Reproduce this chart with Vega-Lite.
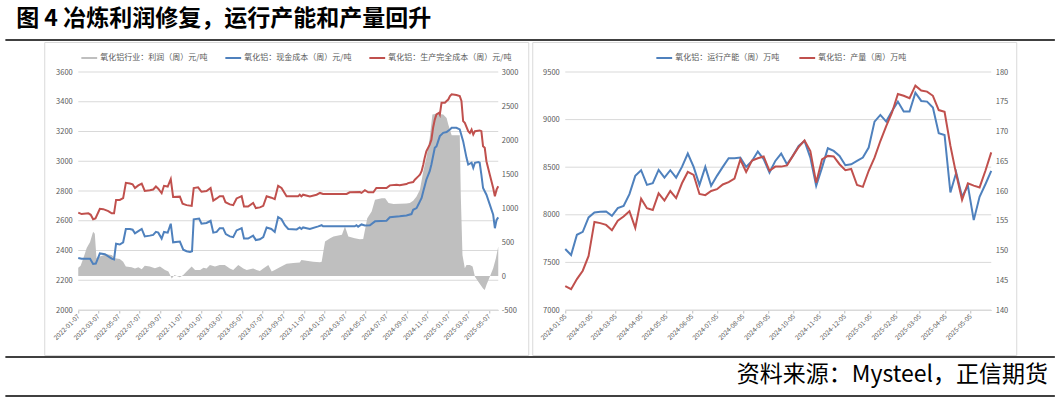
{
  "$schema": "https://vega.github.io/schema/vega-lite/v6.json",
  "background": "white",
  "padding": {"left": 5, "top": 7, "right": 6, "bottom": 0},
  "autosize": {"type": "pad"},
  "config": {
    "font": "Noto Sans CJK SC",
    "view": {"stroke": null}
  },
  "datasets": {
    "profit": [
      {"d":"2022-01-07","v":120},{"d":"2022-01-14","v":150},{"d":"2022-01-22","v":260},{"d":"2022-02-01","v":410},{"d":"2022-02-11","v":500},{"d":"2022-02-20","v":650},{"d":"2022-02-25","v":620},{"d":"2022-03-02","v":260},{"d":"2022-03-12","v":285},{"d":"2022-04-01","v":320},{"d":"2022-04-16","v":310},{"d":"2022-04-26","v":260},{"d":"2022-05-10","v":250},{"d":"2022-05-20","v":210},{"d":"2022-05-28","v":140},{"d":"2022-06-14","v":128},{"d":"2022-06-24","v":110},{"d":"2022-07-04","v":128},{"d":"2022-07-14","v":100},{"d":"2022-07-23","v":150},{"d":"2022-08-07","v":140},{"d":"2022-08-22","v":115},{"d":"2022-09-06","v":140},{"d":"2022-09-21","v":90},{"d":"2022-10-01","v":65},{"d":"2022-10-11","v":-35},{"d":"2022-10-19","v":15},{"d":"2022-10-26","v":0},{"d":"2022-11-04","v":-20},{"d":"2022-11-14","v":15},{"d":"2022-11-24","v":65},{"d":"2022-12-09","v":140},{"d":"2022-12-19","v":90},{"d":"2023-01-03","v":90},{"d":"2023-01-13","v":120},{"d":"2023-01-22","v":110},{"d":"2023-02-01","v":160},{"d":"2023-02-16","v":140},{"d":"2023-03-02","v":160},{"d":"2023-03-17","v":160},{"d":"2023-04-01","v":110},{"d":"2023-04-11","v":90},{"d":"2023-04-26","v":160},{"d":"2023-05-11","v":110},{"d":"2023-05-21","v":90},{"d":"2023-06-09","v":110},{"d":"2023-06-19","v":90},{"d":"2023-06-29","v":75},{"d":"2023-07-09","v":110},{"d":"2023-07-24","v":160},{"d":"2023-08-03","v":65},{"d":"2023-08-12","v":90},{"d":"2023-08-27","v":130},{"d":"2023-09-16","v":180},{"d":"2023-10-06","v":190},{"d":"2023-10-25","v":197},{"d":"2023-10-30","v":236},{"d":"2023-11-14","v":226},{"d":"2023-12-04","v":211},{"d":"2023-12-24","v":201},{"d":"2023-12-29","v":211},{"d":"2024-01-08","v":506},{"d":"2024-01-23","v":555},{"d":"2024-02-02","v":580},{"d":"2024-02-27","v":605},{"d":"2024-03-07","v":728},{"d":"2024-03-17","v":580},{"d":"2024-04-05","v":555},{"d":"2024-04-20","v":540},{"d":"2024-04-30","v":545},{"d":"2024-05-12","v":850},{"d":"2024-05-25","v":949},{"d":"2024-06-04","v":1120},{"d":"2024-06-24","v":1145},{"d":"2024-07-04","v":1145},{"d":"2024-07-14","v":1072},{"d":"2024-07-29","v":1057},{"d":"2024-09-05","v":1065},{"d":"2024-09-15","v":1072},{"d":"2024-09-25","v":1106},{"d":"2024-10-05","v":1170},{"d":"2024-10-15","v":1268},{"d":"2024-10-25","v":1540},{"d":"2024-11-03","v":1735},{"d":"2024-11-13","v":2030},{"d":"2024-11-21","v":2375},{"d":"2024-12-03","v":2385},{"d":"2024-12-23","v":2375},{"d":"2025-01-02","v":2325},{"d":"2025-01-07","v":2227},{"d":"2025-01-17","v":2070},{"d":"2025-02-10","v":2070},{"d":"2025-02-13","v":1200},{"d":"2025-02-18","v":310},{"d":"2025-02-25","v":113},{"d":"2025-03-02","v":162},{"d":"2025-03-12","v":162},{"d":"2025-03-20","v":138},{"d":"2025-03-27","v":-10},{"d":"2025-04-06","v":-84},{"d":"2025-04-20","v":-182},{"d":"2025-04-25","v":-206},{"d":"2025-04-30","v":-133},{"d":"2025-05-10","v":-10},{"d":"2025-05-20","v":113},{"d":"2025-05-28","v":260},{"d":"2025-06-04","v":433}
    ],
    "cash": [
      {"d":"2022-01-07","v":2350},{"d":"2022-01-17","v":2345},{"d":"2022-02-11","v":2345},{"d":"2022-02-20","v":2310},{"d":"2022-02-28","v":2312},{"d":"2022-03-12","v":2380},{"d":"2022-03-27","v":2375},{"d":"2022-04-06","v":2360},{"d":"2022-04-16","v":2345},{"d":"2022-04-23","v":2340},{"d":"2022-04-29","v":2445},{"d":"2022-05-10","v":2440},{"d":"2022-05-20","v":2455},{"d":"2022-05-28","v":2545},{"d":"2022-06-09","v":2545},{"d":"2022-06-17","v":2540},{"d":"2022-06-24","v":2515},{"d":"2022-07-04","v":2530},{"d":"2022-07-14","v":2545},{"d":"2022-07-23","v":2495},{"d":"2022-08-07","v":2500},{"d":"2022-08-17","v":2505},{"d":"2022-08-25","v":2525},{"d":"2022-09-01","v":2520},{"d":"2022-09-11","v":2480},{"d":"2022-09-18","v":2525},{"d":"2022-09-29","v":2520},{"d":"2022-10-08","v":2580},{"d":"2022-10-15","v":2455},{"d":"2022-11-04","v":2460},{"d":"2022-11-14","v":2405},{"d":"2022-11-24","v":2395},{"d":"2022-12-04","v":2390},{"d":"2022-12-10","v":2395},{"d":"2022-12-15","v":2610},{"d":"2022-12-31","v":2615},{"d":"2023-01-07","v":2580},{"d":"2023-01-22","v":2585},{"d":"2023-02-03","v":2600},{"d":"2023-02-11","v":2520},{"d":"2023-02-21","v":2525},{"d":"2023-03-02","v":2550},{"d":"2023-03-12","v":2550},{"d":"2023-03-20","v":2510},{"d":"2023-04-01","v":2495},{"d":"2023-04-11","v":2490},{"d":"2023-04-21","v":2535},{"d":"2023-05-06","v":2550},{"d":"2023-05-13","v":2480},{"d":"2023-05-25","v":2480},{"d":"2023-06-09","v":2500},{"d":"2023-06-17","v":2470},{"d":"2023-06-29","v":2475},{"d":"2023-07-09","v":2490},{"d":"2023-07-19","v":2555},{"d":"2023-08-02","v":2545},{"d":"2023-08-12","v":2525},{"d":"2023-08-22","v":2625},{"d":"2023-09-01","v":2610},{"d":"2023-09-11","v":2570},{"d":"2023-09-21","v":2545},{"d":"2023-10-16","v":2542},{"d":"2023-10-25","v":2555},{"d":"2023-10-30","v":2545},{"d":"2023-11-04","v":2555},{"d":"2023-11-24","v":2545},{"d":"2023-12-19","v":2562},{"d":"2023-12-29","v":2570},{"d":"2024-01-02","v":2563},{"d":"2024-04-05","v":2563},{"d":"2024-04-10","v":2570},{"d":"2024-04-15","v":2560},{"d":"2024-04-25","v":2575},{"d":"2024-05-05","v":2568},{"d":"2024-05-20","v":2570},{"d":"2024-06-04","v":2596},{"d":"2024-07-08","v":2600},{"d":"2024-07-18","v":2623},{"d":"2024-08-16","v":2630},{"d":"2024-09-05","v":2636},{"d":"2024-09-20","v":2645},{"d":"2024-09-25","v":2674},{"d":"2024-10-05","v":2685},{"d":"2024-10-10","v":2708},{"d":"2024-10-15","v":2730},{"d":"2024-10-20","v":2753},{"d":"2024-10-25","v":2798},{"d":"2024-10-29","v":2832},{"d":"2024-11-03","v":2876},{"d":"2024-11-13","v":2933},{"d":"2024-11-18","v":2978},{"d":"2024-11-28","v":3090},{"d":"2024-12-03","v":3100},{"d":"2024-12-13","v":3169},{"d":"2024-12-23","v":3191},{"d":"2025-01-02","v":3196},{"d":"2025-01-12","v":3214},{"d":"2025-01-17","v":3225},{"d":"2025-01-31","v":3225},{"d":"2025-02-10","v":3214},{"d":"2025-02-20","v":3135},{"d":"2025-03-02","v":3023},{"d":"2025-03-07","v":2978},{"d":"2025-03-17","v":2990},{"d":"2025-03-22","v":2956},{"d":"2025-03-27","v":2990},{"d":"2025-04-06","v":2995},{"d":"2025-04-10","v":2990},{"d":"2025-04-15","v":2910},{"d":"2025-04-20","v":2820},{"d":"2025-04-30","v":2775},{"d":"2025-05-10","v":2708},{"d":"2025-05-20","v":2640},{"d":"2025-05-25","v":2550},{"d":"2025-05-30","v":2606},{"d":"2025-06-04","v":2623}
    ],
    "full": [
      {"d":"2022-01-07","v":2655},{"d":"2022-01-17","v":2645},{"d":"2022-02-06","v":2650},{"d":"2022-02-13","v":2640},{"d":"2022-02-20","v":2610},{"d":"2022-02-27","v":2615},{"d":"2022-03-12","v":2680},{"d":"2022-03-22","v":2678},{"d":"2022-04-06","v":2665},{"d":"2022-04-16","v":2650},{"d":"2022-04-23","v":2650},{"d":"2022-04-29","v":2740},{"d":"2022-05-10","v":2740},{"d":"2022-05-20","v":2752},{"d":"2022-05-28","v":2855},{"d":"2022-06-09","v":2850},{"d":"2022-06-17","v":2845},{"d":"2022-06-24","v":2820},{"d":"2022-07-04","v":2838},{"d":"2022-07-14","v":2850},{"d":"2022-07-23","v":2800},{"d":"2022-08-07","v":2805},{"d":"2022-08-17","v":2810},{"d":"2022-08-25","v":2830},{"d":"2022-09-01","v":2815},{"d":"2022-09-11","v":2785},{"d":"2022-09-18","v":2835},{"d":"2022-09-29","v":2830},{"d":"2022-10-08","v":2880},{"d":"2022-10-15","v":2760},{"d":"2022-11-04","v":2762},{"d":"2022-11-12","v":2715},{"d":"2022-11-24","v":2705},{"d":"2022-12-09","v":2700},{"d":"2022-12-15","v":2820},{"d":"2022-12-28","v":2825},{"d":"2023-01-07","v":2795},{"d":"2023-01-22","v":2800},{"d":"2023-02-03","v":2820},{"d":"2023-02-11","v":2735},{"d":"2023-02-21","v":2750},{"d":"2023-03-02","v":2765},{"d":"2023-03-12","v":2765},{"d":"2023-03-19","v":2725},{"d":"2023-04-01","v":2710},{"d":"2023-04-11","v":2705},{"d":"2023-04-21","v":2750},{"d":"2023-05-06","v":2765},{"d":"2023-05-13","v":2695},{"d":"2023-05-25","v":2695},{"d":"2023-06-09","v":2720},{"d":"2023-06-17","v":2685},{"d":"2023-06-29","v":2690},{"d":"2023-07-09","v":2700},{"d":"2023-07-19","v":2765},{"d":"2023-08-02","v":2755},{"d":"2023-08-12","v":2745},{"d":"2023-08-22","v":2835},{"d":"2023-09-01","v":2820},{"d":"2023-09-16","v":2764},{"d":"2023-10-20","v":2764},{"d":"2023-10-25","v":2775},{"d":"2023-10-30","v":2764},{"d":"2023-11-04","v":2775},{"d":"2023-11-24","v":2764},{"d":"2023-12-14","v":2775},{"d":"2023-12-24","v":2787},{"d":"2024-01-02","v":2780},{"d":"2024-03-12","v":2780},{"d":"2024-03-21","v":2791},{"d":"2024-04-20","v":2793},{"d":"2024-04-25","v":2787},{"d":"2024-05-05","v":2805},{"d":"2024-05-15","v":2791},{"d":"2024-05-30","v":2791},{"d":"2024-06-08","v":2820},{"d":"2024-07-08","v":2820},{"d":"2024-07-18","v":2838},{"d":"2024-08-07","v":2842},{"d":"2024-08-16","v":2838},{"d":"2024-09-05","v":2847},{"d":"2024-09-10","v":2853},{"d":"2024-09-25","v":2860},{"d":"2024-09-30","v":2876},{"d":"2024-10-10","v":2898},{"d":"2024-10-15","v":2910},{"d":"2024-10-20","v":2933},{"d":"2024-10-25","v":2978},{"d":"2024-10-29","v":3022},{"d":"2024-11-03","v":3067},{"d":"2024-11-13","v":3112},{"d":"2024-11-18","v":3145},{"d":"2024-11-23","v":3225},{"d":"2024-11-28","v":3280},{"d":"2024-12-03","v":3315},{"d":"2024-12-11","v":3326},{"d":"2024-12-13","v":3315},{"d":"2024-12-18","v":3393},{"d":"2024-12-28","v":3393},{"d":"2025-01-02","v":3405},{"d":"2025-01-07","v":3415},{"d":"2025-01-12","v":3438},{"d":"2025-01-17","v":3450},{"d":"2025-01-31","v":3445},{"d":"2025-02-10","v":3438},{"d":"2025-02-15","v":3405},{"d":"2025-02-20","v":3270},{"d":"2025-02-25","v":3258},{"d":"2025-03-07","v":3202},{"d":"2025-03-12","v":3190},{"d":"2025-03-17","v":3213},{"d":"2025-03-22","v":3180},{"d":"2025-03-27","v":3202},{"d":"2025-04-10","v":3207},{"d":"2025-04-15","v":3202},{"d":"2025-04-20","v":3100},{"d":"2025-04-25","v":3090},{"d":"2025-04-30","v":3000},{"d":"2025-05-10","v":2910},{"d":"2025-05-20","v":2820},{"d":"2025-05-25","v":2764},{"d":"2025-05-30","v":2809},{"d":"2025-06-04","v":2832}
    ],
    "cap": [
      {"d":"2024-01-05","v":7640},{"d":"2024-01-12","v":7577},{"d":"2024-01-19","v":7790},{"d":"2024-01-26","v":7821},{"d":"2024-02-02","v":7972},{"d":"2024-02-09","v":8024},{"d":"2024-02-16","v":8031},{"d":"2024-02-23","v":8035},{"d":"2024-03-01","v":7990},{"d":"2024-03-08","v":8070},{"d":"2024-03-15","v":8094},{"d":"2024-03-22","v":8217},{"d":"2024-03-29","v":8409},{"d":"2024-04-05","v":8468},{"d":"2024-04-12","v":8314},{"d":"2024-04-19","v":8332},{"d":"2024-04-26","v":8472},{"d":"2024-05-03","v":8391},{"d":"2024-05-10","v":8468},{"d":"2024-05-17","v":8391},{"d":"2024-05-24","v":8503},{"d":"2024-05-31","v":8643},{"d":"2024-06-07","v":8503},{"d":"2024-06-14","v":8314},{"d":"2024-06-21","v":8503},{"d":"2024-06-28","v":8304},{"d":"2024-07-05","v":8409},{"d":"2024-07-12","v":8503},{"d":"2024-07-19","v":8594},{"d":"2024-07-26","v":8594},{"d":"2024-08-02","v":8601},{"d":"2024-08-09","v":8503},{"d":"2024-08-16","v":8566},{"d":"2024-08-23","v":8664},{"d":"2024-08-30","v":8584},{"d":"2024-09-06","v":8444},{"d":"2024-09-13","v":8566},{"d":"2024-09-20","v":8643},{"d":"2024-09-27","v":8530},{"d":"2024-10-04","v":8619},{"d":"2024-10-11","v":8724},{"d":"2024-10-18","v":8776},{"d":"2024-10-25","v":8601},{"d":"2024-11-01","v":8304},{"d":"2024-11-08","v":8496},{"d":"2024-11-15","v":8699},{"d":"2024-11-22","v":8671},{"d":"2024-11-29","v":8619},{"d":"2024-12-06","v":8521},{"d":"2024-12-13","v":8531},{"d":"2024-12-20","v":8566},{"d":"2024-12-27","v":8601},{"d":"2025-01-03","v":8706},{"d":"2025-01-10","v":8979},{"d":"2025-01-17","v":9049},{"d":"2025-01-24","v":8979},{"d":"2025-01-31","v":9091},{"d":"2025-02-07","v":9189},{"d":"2025-02-14","v":9084},{"d":"2025-02-21","v":9084},{"d":"2025-02-28","v":9283},{"d":"2025-03-07","v":9196},{"d":"2025-03-14","v":9189},{"d":"2025-03-21","v":9126},{"d":"2025-03-28","v":8857},{"d":"2025-04-04","v":8839},{"d":"2025-04-11","v":8234},{"d":"2025-04-18","v":8444},{"d":"2025-04-25","v":8189},{"d":"2025-05-02","v":8304},{"d":"2025-05-09","v":7944},{"d":"2025-05-16","v":8189},{"d":"2025-05-23","v":8321},{"d":"2025-05-30","v":8461}
    ],
    "out": [
      {"d":"2024-01-05","v":144.0},{"d":"2024-01-12","v":143.5},{"d":"2024-01-19","v":145.2},{"d":"2024-01-26","v":146.6},{"d":"2024-02-02","v":149.1},{"d":"2024-02-09","v":154.8},{"d":"2024-02-16","v":154.6},{"d":"2024-02-23","v":154.3},{"d":"2024-03-01","v":153.4},{"d":"2024-03-08","v":155.0},{"d":"2024-03-15","v":155.7},{"d":"2024-03-22","v":156.6},{"d":"2024-03-29","v":153.8},{"d":"2024-04-05","v":158.7},{"d":"2024-04-12","v":157.1},{"d":"2024-04-19","v":156.8},{"d":"2024-04-26","v":159.6},{"d":"2024-05-03","v":158.4},{"d":"2024-05-10","v":160.0},{"d":"2024-05-17","v":158.8},{"d":"2024-05-24","v":161.3},{"d":"2024-05-31","v":163.2},{"d":"2024-06-07","v":162.7},{"d":"2024-06-14","v":159.5},{"d":"2024-06-21","v":159.3},{"d":"2024-06-28","v":160.0},{"d":"2024-07-05","v":160.3},{"d":"2024-07-12","v":161.1},{"d":"2024-07-19","v":161.5},{"d":"2024-07-26","v":162.1},{"d":"2024-08-02","v":165.3},{"d":"2024-08-09","v":163.2},{"d":"2024-08-16","v":165.1},{"d":"2024-08-23","v":165.5},{"d":"2024-08-30","v":165.8},{"d":"2024-09-06","v":163.4},{"d":"2024-09-13","v":164.1},{"d":"2024-09-20","v":164.1},{"d":"2024-09-27","v":164.3},{"d":"2024-10-04","v":165.9},{"d":"2024-10-11","v":167.4},{"d":"2024-10-18","v":168.5},{"d":"2024-10-25","v":166.7},{"d":"2024-11-01","v":161.4},{"d":"2024-11-08","v":165.3},{"d":"2024-11-15","v":165.9},{"d":"2024-11-22","v":165.8},{"d":"2024-11-29","v":164.5},{"d":"2024-12-06","v":163.5},{"d":"2024-12-13","v":163.7},{"d":"2024-12-20","v":161.0},{"d":"2024-12-27","v":160.7},{"d":"2025-01-03","v":163.4},{"d":"2025-01-10","v":165.6},{"d":"2025-01-17","v":168.4},{"d":"2025-01-24","v":170.9},{"d":"2025-01-31","v":173.2},{"d":"2025-02-07","v":176.3},{"d":"2025-02-14","v":176.0},{"d":"2025-02-21","v":175.6},{"d":"2025-02-28","v":177.7},{"d":"2025-03-07","v":176.9},{"d":"2025-03-14","v":176.7},{"d":"2025-03-21","v":176.0},{"d":"2025-03-28","v":173.6},{"d":"2025-04-04","v":173.3},{"d":"2025-04-11","v":167.6},{"d":"2025-04-18","v":162.8},{"d":"2025-04-25","v":158.5},{"d":"2025-05-02","v":161.3},{"d":"2025-05-09","v":160.9},{"d":"2025-05-16","v":160.6},{"d":"2025-05-23","v":163.4},{"d":"2025-05-30","v":166.5}
    ]
  },
  "spacing": 0,
  "center": true,
  "vconcat": [
    {
      "width": 1048,
      "height": 0.01,
      "view": {"stroke": "#000000", "strokeWidth": 1.5},
      "title": {"text": "图 4 冶炼利润修复，运行产能和产量回升", "anchor": "start", "orient": "top", "font": "Noto Sans CJK SC", "fontSize": 23, "fontWeight": "bold", "color": "#000000", "dx": 10, "dy": 20, "offset": 11, "baseline": "alphabetic"},
      "data": {"values": []},
      "mark": "text",
      "encoding": {}
    },
    {
      "spacing": 2,
      "resolve": {"scale": {"color": "independent"}},
      "hconcat": [
        {
          "width": 484,
          "height": 313,
          "view": {"stroke": "#d9d9d9", "strokeWidth": 1},
          "resolve": {"scale": {"x": "independent", "y": "independent"}},
          "layer": [
            {
              "data": {"values": [{"g":2000},{"g":2200},{"g":2400},{"g":2600},{"g":2800},{"g":3000},{"g":3200},{"g":3400},{"g":3600}]},
              "mark": {"type": "rule", "color": "#d9d9d9", "strokeWidth": 1},
              "encoding": {
                "y": {"field": "g", "type": "quantitative", "scale": {"domain": [2000, 3600], "range": [268, 30], "nice": false, "zero": false}, "axis": null},
                "x": {"datum": {"year": 2022, "month": 1, "date": 7, "utc": true}, "type": "temporal", "scale": {"type": "utc", "domain": [{"year": 2022, "month": 1, "date": 7, "utc": true}, {"year": 2025, "month": 6, "date": 4, "utc": true}], "range": [34, 454], "nice": false}, "axis": null},
                "x2": {"datum": {"year": 2025, "month": 6, "date": 4, "utc": true}}
              }
            },
            {
              "data": {"name": "profit"},
              "mark": {"type": "area", "opacity": 1},
              "encoding": {
                "x": {"field": "d", "type": "temporal", "scale": {"type": "utc", "domain": [{"year": 2022, "month": 1, "date": 7, "utc": true}, {"year": 2025, "month": 6, "date": 4, "utc": true}], "range": [34, 454], "nice": false},
                  "axis": {"orient": "bottom", "values": [{"year":2022,"month":1,"date":7,"utc":true},{"year":2022,"month":3,"date":7,"utc":true},{"year":2022,"month":5,"date":7,"utc":true},{"year":2022,"month":7,"date":7,"utc":true},{"year":2022,"month":9,"date":7,"utc":true},{"year":2022,"month":11,"date":7,"utc":true},{"year":2023,"month":1,"date":7,"utc":true},{"year":2023,"month":3,"date":7,"utc":true},{"year":2023,"month":5,"date":7,"utc":true},{"year":2023,"month":7,"date":7,"utc":true},{"year":2023,"month":9,"date":7,"utc":true},{"year":2023,"month":11,"date":7,"utc":true},{"year":2024,"month":1,"date":7,"utc":true},{"year":2024,"month":3,"date":7,"utc":true},{"year":2024,"month":5,"date":7,"utc":true},{"year":2024,"month":7,"date":7,"utc":true},{"year":2024,"month":9,"date":7,"utc":true},{"year":2024,"month":11,"date":7,"utc":true},{"year":2025,"month":1,"date":7,"utc":true},{"year":2025,"month":3,"date":7,"utc":true},{"year":2025,"month":5,"date":7,"utc":true}],
                    "labelExpr": "utcFormat(datum.value, '%Y-%m-%d')", "labelAngle": -45, "labelAlign": "right", "labelBaseline": "middle", "labelFontSize": 6.5, "labelColor": "#595959", "labelPadding": 2, "tickSize": 3, "tickColor": "#bfbfbf", "domainColor": "#d9d9d9", "grid": false, "title": null, "offset": -45, "labelOverlap": false, "labelFlush": false, "labelBound": false, "minExtent": 0}},
                "y": {"field": "v", "type": "quantitative", "scale": {"domain": [-500, 3000], "range": [268, 30], "nice": false, "zero": false},
                  "axis": {"orient": "right", "values": [-500, 0, 500, 1000, 1500, 2000, 2500, 3000], "labelExpr": "'' + datum.value", "offset": -30, "grid": false, "domain": false, "ticks": false, "tickSize": 0, "labelPadding": 3, "labelFontSize": 7.5, "labelColor": "#595959", "title": null, "minExtent": 0, "labelOverlap": false, "labelBound": false}},
                "y2": {"datum": 0},
                "color": {"datum": "氧化铝行业：利润（周）元/吨", "type": "nominal",
                  "scale": {"domain": ["氧化铝行业：利润（周）元/吨", "氧化铝：现金成本（周）元/吨", "氧化铝：生产完全成本（周）元/吨"], "range": ["#bfbfbf", "#4f81bd", "#c0504d"]},
                  "legend": {"title": null, "orient": "none", "legendX": 36, "legendY": 7, "direction": "horizontal", "symbolType": "stroke", "symbolSize": 250, "symbolStrokeWidth": 2, "labelFontSize": 8, "labelColor": "#595959", "labelOffset": 2, "columnPadding": 13, "padding": 0, "labelLimit": 300,
                    "encode": {"symbols": {"update": {"stroke": {"signal": "indexof(datum.value,'利润')>=0 ? '#bfbfbf' : (indexof(datum.value,'现金')>=0 ? '#4f81bd' : '#c0504d')"}, "strokeWidth": {"signal": "indexof(datum.value,'利润')>=0 ? 5 : 2"}, "opacity": {"value": 1}}}}}}
              }
            },
            {
              "data": {"name": "cash"},
              "mark": {"type": "line", "strokeWidth": 2},
              "encoding": {
                "x": {"field": "d", "type": "temporal", "scale": {"type": "utc", "domain": [{"year": 2022, "month": 1, "date": 7, "utc": true}, {"year": 2025, "month": 6, "date": 4, "utc": true}], "range": [34, 454], "nice": false}, "axis": null},
                "y": {"field": "v", "type": "quantitative", "scale": {"domain": [2000, 3600], "range": [268, 30], "nice": false, "zero": false},
                  "axis": {"orient": "left", "values": [2000, 2200, 2400, 2600, 2800, 3000, 3200, 3400, 3600], "labelExpr": "'' + datum.value", "offset": -34, "grid": false, "domain": false, "ticks": false, "tickSize": 0, "labelPadding": 6, "labelFontSize": 7.5, "labelColor": "#595959", "title": null, "minExtent": 0, "labelOverlap": false, "labelBound": false}},
                "color": {"datum": "氧化铝：现金成本（周）元/吨", "type": "nominal",
                  "scale": {"domain": ["氧化铝行业：利润（周）元/吨", "氧化铝：现金成本（周）元/吨", "氧化铝：生产完全成本（周）元/吨"], "range": ["#bfbfbf", "#4f81bd", "#c0504d"]}}
              }
            },
            {
              "data": {"name": "full"},
              "mark": {"type": "line", "strokeWidth": 2},
              "encoding": {
                "x": {"field": "d", "type": "temporal", "scale": {"type": "utc", "domain": [{"year": 2022, "month": 1, "date": 7, "utc": true}, {"year": 2025, "month": 6, "date": 4, "utc": true}], "range": [34, 454], "nice": false}, "axis": null},
                "y": {"field": "v", "type": "quantitative", "scale": {"domain": [2000, 3600], "range": [268, 30], "nice": false, "zero": false}, "axis": null},
                "color": {"datum": "氧化铝：生产完全成本（周）元/吨", "type": "nominal",
                  "scale": {"domain": ["氧化铝行业：利润（周）元/吨", "氧化铝：现金成本（周）元/吨", "氧化铝：生产完全成本（周）元/吨"], "range": ["#bfbfbf", "#4f81bd", "#c0504d"]}}
              }
            }
          ]
        },
        {
          "width": 484,
          "height": 313,
          "view": {"stroke": "#d9d9d9", "strokeWidth": 1},
          "resolve": {"scale": {"x": "independent", "y": "independent"}},
          "layer": [
            {
              "data": {"values": [{"g":7000},{"g":7500},{"g":8000},{"g":8500},{"g":9000},{"g":9500}]},
              "mark": {"type": "rule", "color": "#d9d9d9", "strokeWidth": 1},
              "encoding": {
                "y": {"field": "g", "type": "quantitative", "scale": {"domain": [7000, 9500], "range": [268, 30], "nice": false, "zero": false}, "axis": null},
                "x": {"datum": {"year": 2024, "month": 1, "date": 5, "utc": true}, "type": "temporal", "scale": {"type": "utc", "domain": [{"year": 2024, "month": 1, "date": 5, "utc": true}, {"year": 2025, "month": 5, "date": 30, "utc": true}], "range": [33, 459], "nice": false}, "axis": null},
                "x2": {"datum": {"year": 2025, "month": 5, "date": 30, "utc": true}}
              }
            },
            {
              "data": {"name": "cap"},
              "mark": {"type": "line", "strokeWidth": 2},
              "encoding": {
                "x": {"field": "d", "type": "temporal", "scale": {"type": "utc", "domain": [{"year": 2024, "month": 1, "date": 5, "utc": true}, {"year": 2025, "month": 5, "date": 30, "utc": true}], "range": [33, 459], "nice": false},
                  "axis": {"orient": "bottom", "values": [{"year":2024,"month":1,"date":5,"utc":true},{"year":2024,"month":2,"date":5,"utc":true},{"year":2024,"month":3,"date":5,"utc":true},{"year":2024,"month":4,"date":5,"utc":true},{"year":2024,"month":5,"date":5,"utc":true},{"year":2024,"month":6,"date":5,"utc":true},{"year":2024,"month":7,"date":5,"utc":true},{"year":2024,"month":8,"date":5,"utc":true},{"year":2024,"month":9,"date":5,"utc":true},{"year":2024,"month":10,"date":5,"utc":true},{"year":2024,"month":11,"date":5,"utc":true},{"year":2024,"month":12,"date":5,"utc":true},{"year":2025,"month":1,"date":5,"utc":true},{"year":2025,"month":2,"date":5,"utc":true},{"year":2025,"month":3,"date":5,"utc":true},{"year":2025,"month":4,"date":5,"utc":true},{"year":2025,"month":5,"date":5,"utc":true}],
                    "labelExpr": "utcFormat(datum.value, '%Y-%m-%d')", "labelAngle": -45, "labelAlign": "right", "labelBaseline": "middle", "labelFontSize": 6.5, "labelColor": "#595959", "labelPadding": 2, "tickSize": 3, "tickColor": "#bfbfbf", "domainColor": "#d9d9d9", "grid": false, "title": null, "offset": -45, "labelOverlap": false, "labelFlush": false, "labelBound": false, "minExtent": 0}},
                "y": {"field": "v", "type": "quantitative", "scale": {"domain": [7000, 9500], "range": [268, 30], "nice": false, "zero": false},
                  "axis": {"orient": "left", "values": [7000, 7500, 8000, 8500, 9000, 9500], "labelExpr": "'' + datum.value", "offset": -33, "grid": false, "domain": false, "ticks": false, "tickSize": 0, "labelPadding": 6, "labelFontSize": 7.5, "labelColor": "#595959", "title": null, "minExtent": 0, "labelOverlap": false, "labelBound": false}},
                "color": {"datum": "氧化铝：运行产能（周）万吨", "type": "nominal",
                  "scale": {"domain": ["氧化铝：运行产能（周）万吨", "氧化铝：产量（周）万吨"], "range": ["#4f81bd", "#c0504d"]},
                  "legend": {"title": null, "orient": "none", "legendX": 123, "legendY": 7, "direction": "horizontal", "symbolType": "stroke", "symbolSize": 250, "symbolStrokeWidth": 2, "labelFontSize": 8, "labelColor": "#595959", "labelOffset": 2, "columnPadding": 16, "padding": 0, "labelLimit": 300}}
              }
            },
            {
              "data": {"name": "out"},
              "mark": {"type": "line", "strokeWidth": 2},
              "encoding": {
                "x": {"field": "d", "type": "temporal", "scale": {"type": "utc", "domain": [{"year": 2024, "month": 1, "date": 5, "utc": true}, {"year": 2025, "month": 5, "date": 30, "utc": true}], "range": [33, 459], "nice": false}, "axis": null},
                "y": {"field": "v", "type": "quantitative", "scale": {"domain": [140, 180], "range": [268, 30], "nice": false, "zero": false},
                  "axis": {"orient": "right", "values": [140, 145, 150, 155, 160, 165, 170, 175, 180], "labelExpr": "'' + datum.value", "offset": -25, "grid": false, "domain": false, "ticks": false, "tickSize": 0, "labelPadding": 4, "labelFontSize": 7.5, "labelColor": "#595959", "title": null, "minExtent": 0, "labelOverlap": false, "labelBound": false}},
                "color": {"datum": "氧化铝：产量（周）万吨", "type": "nominal",
                  "scale": {"domain": ["氧化铝：运行产能（周）万吨", "氧化铝：产量（周）万吨"], "range": ["#4f81bd", "#c0504d"]}}
              }
            }
          ]
        }
      ]
    },
    {
      "spacing": 5,
      "vconcat": [
        {
          "width": 1048,
          "height": 0.01,
          "view": {"stroke": "#000000", "strokeWidth": 1.5},
          "data": {"values": []},
          "mark": "text",
          "encoding": {}
        },
        {
          "width": 1048,
          "height": 0.01,
          "view": {"stroke": "#000000", "strokeWidth": 1.5},
          "title": {"text": "资料来源：Mysteel，正信期货", "anchor": "end", "orient": "top", "font": "Noto Sans CJK SC", "fontSize": 23, "fontWeight": "normal", "color": "#000000", "dx": -6, "dy": 19, "offset": 10, "baseline": "alphabetic"},
          "data": {"values": []},
          "mark": "text",
          "encoding": {}
        }
      ]
    }
  ]
}
